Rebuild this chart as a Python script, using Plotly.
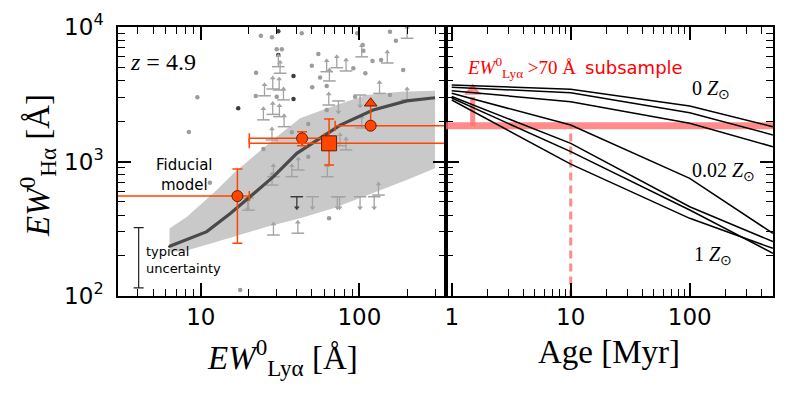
import math
import plotly.graph_objects as go

# ------------------------- data: left panel -------------------------
band_upper_x = [6.34, 8.17, 9.9, 12.6, 16.1, 21.5, 30.1, 42.3, 68.5, 111, 181, 300]
band_upper_y = [318, 389, 475, 614, 817, 1086, 1528, 2093, 2588, 3120, 3300, 3357]
band_lower_x = [300, 199, 111, 68.5, 42.3, 26.1, 16.1, 9.9, 7.76, 6.34]
band_lower_y = [890, 728, 563, 449, 378, 327, 276, 233, 214, 214]

fid_x = [6.3, 10.9, 15.4, 28.7, 40.3, 62.2, 75.7, 122, 199, 300]
fid_y = [233, 301, 412, 771, 1151, 1622, 1866, 2415, 2820, 2980]

dot_x = [23.9, 28.1, 43.3, 97, 156, 170, 30.1, 32.4, 55.1, 106, 121, 137, 189, 22.3, 50.1,
         56.5, 22.2, 30.1, 50.4, 9.5, 8.4, 24.8, 47.6, 64.4, 11.4, 17.7, 105, 91.6, 109, 156,
         94, 62.2, 62.2, 47.6, 37.5]
dot_y = [8610, 8380, 8980, 8980, 9230, 7910, 6820, 6820, 6300, 6670, 5580, 5690, 4790, 4570, 5150,
         4220, 3070, 3030, 3560, 3000, 1655, 1240, 1086, 378, 695, 111, 7350, 4930, 4530, 3120,
         3030, 3640, 2415, 1900, 1650]
dark_x = [30.8, 30.8, 38.4, 38.4, 17.2]
dark_y = [9300, 6190, 4330, 2920, 2490]

lolim_x = [30.8, 31.6, 62.2, 72, 82.4, 64.7, 25.2, 28.4, 31.2, 33.2, 28.4, 24.8, 31.3, 33.5,
           64.1, 103.5, 150, 200, 134, 200, 103.5, 28.7, 37.5, 41.2, 28.1, 20, 132, 28.7, 40.9,
           82.4, 62.8, 75.5, 28.1]
lolim_y = [5070, 4530, 4650, 4980, 4710, 3970, 3080, 3460, 3400, 2870, 2240, 2040, 2155, 1815,
           2630, 6000, 5400, 8240, 3210, 2870, 1775, 771, 771, 865, 668, 435, 563, 284, 293,
           1220, 771, 1310, 1445]
uplim_x = [50.6, 72.6, 75.0, 101, 124, 19.7, 101, 73.8]
uplim_y = [547, 547, 547, 547, 547, 535, 3120, 2820]
uplim_dark_x = [40.3]
uplim_dark_y = [547]

circ_x = [17.0, 43.5]
circ_y = [553, 1486]
circ_x_lo = [1.0, 20.2]
circ_x_hi = [20.2, 60.0]
circ_y_lo = [247, 1312]
circ_y_hi = [880, 1667]

sq_x = [64.4]
sq_y = [1365]
sq_x_lo = [20.2]
sq_x_hi = [1000.0]
sq_y_lo = [943]
sq_y_hi = [2070]

sub_x = [117.8]
sub_y = [1846]
sub_x_lo = [70.3]
sub_x_hi = [1000.0]
sub_lim_y = [2712]

typ_x = [4.05]
typ_lo = [115]
typ_hi = [322]

# ------------------------- data: right panel -------------------------
ages = [1, 10, 100, 500]
tracks = [
    [3705, 3440, 2590, 1815],
    [3565, 3250, 2305, 1575],
    [3360, 2785, 1923, 1288],
    [3213, 1866, 750, 292],
    [3040, 1365, 461, 254],
    [2965, 1183, 436, 208],
    [2865, 957, 378, 226],
]
threshold_y = 1846
threshold_age = 10
arrow_age = 1.5
arrow_top = 3020
arrow_head = 3340
span_ages = [0.5, 1000]
axis_floor = 50

xticks_left = [10, 100]
xticks_right = [1, 10, 100]
yticks = [100, 1000, 10000]
yticklabels = ["10<sup>2</sup>", "10<sup>3</sup>", "10<sup>4</sup>"]

# ------------------------- styles -------------------------
ORANGE = "#FF4500"
EDGE = "#6b1a00"
LIM = "#a3a3a3"
DOT = "#9c9c9c"
DARK = "#3c3c3c"
PINK = "rgba(255,110,110,0.8)"
STEM = 10 ** (11 / 134.5)
SERIF = "Liberation Serif"
SANS = "DejaVu Sans"

fig = go.Figure()
L = dict(xaxis="x", yaxis="y")
R = dict(xaxis="x2", yaxis="y2")

# band
fig.add_trace(go.Scatter(x=band_upper_x + band_lower_x, y=band_upper_y + band_lower_y,
                         fill="toself", fillcolor="#c9c9c9", line=dict(width=0),
                         mode="lines", hoverinfo="skip", **L))
# dots
fig.add_trace(go.Scatter(x=dot_x, y=dot_y, mode="markers",
                         marker=dict(size=4.5, color=DOT), **L))
fig.add_trace(go.Scatter(x=dark_x, y=dark_y, mode="markers",
                         marker=dict(size=4.5, color=DARK), **L))
# lower limits
fig.add_trace(go.Scatter(x=lolim_x, y=lolim_y, mode="markers",
                         marker=dict(symbol="line-ew", size=9, line=dict(width=1.5, color=LIM)),
                         error_y=dict(type="data", symmetric=False,
                                      array=[v * (STEM - 1) for v in lolim_y],
                                      arrayminus=[0] * len(lolim_y), width=0, thickness=1.3, color=LIM),
                         **L))
fig.add_trace(go.Scatter(x=lolim_x, y=[v * STEM for v in lolim_y], mode="markers",
                         marker=dict(symbol="triangle-up", size=5, color=LIM), **L))
# upper limits
for ux, uy, col in [(uplim_x, uplim_y, LIM), (uplim_dark_x, uplim_dark_y, DARK)]:
    fig.add_trace(go.Scatter(x=ux, y=uy, mode="markers",
                             marker=dict(symbol="line-ew", size=9, line=dict(width=1.5, color=col)),
                             error_y=dict(type="data", symmetric=False, array=[0] * len(uy),
                                          arrayminus=[v * (1 - 1 / STEM) for v in uy],
                                          width=0, thickness=1.3, color=col),
                             **L))
    fig.add_trace(go.Scatter(x=ux, y=[v / STEM for v in uy], mode="markers",
                             marker=dict(symbol="triangle-down", size=5, color=col), **L))
# fiducial model curve
fig.add_trace(go.Scatter(x=fid_x, y=fid_y, mode="lines",
                         line=dict(color="#4a4a4a", width=3.2), **L))
# typical uncertainty
fig.add_trace(go.Scatter(x=typ_x, y=typ_lo, mode="markers", marker=dict(size=1, opacity=0),
                         error_y=dict(type="data", symmetric=False,
                                      array=[h - l for h, l in zip(typ_hi, typ_lo)],
                                      arrayminus=[0], width=5, thickness=1.2, color="#222"),
                         **L))


def ebar(xs, lo, hi):
    return dict(type="data", symmetric=False,
                array=[h - x for h, x in zip(hi, xs)], arrayminus=[x - l for x, l in zip(xs, lo)])


# circles
ex = ebar(circ_x, circ_x_lo, circ_x_hi)
ey = ebar(circ_y, circ_y_lo, circ_y_hi)
fig.add_trace(go.Scatter(x=circ_x, y=circ_y, mode="markers",
                         marker=dict(symbol="circle", size=11, color=ORANGE, line=dict(color=EDGE, width=1)),
                         error_x=dict(**ex, width=5, thickness=1.5, color=ORANGE),
                         error_y=dict(**ey, width=5, thickness=1.5, color=ORANGE), **L))
# square
ex = ebar(sq_x, sq_x_lo, sq_x_hi)
ey = ebar(sq_y, sq_y_lo, sq_y_hi)
fig.add_trace(go.Scatter(x=sq_x, y=sq_y, mode="markers",
                         marker=dict(symbol="square", size=15, color=ORANGE, line=dict(color=EDGE, width=1)),
                         error_x=dict(**ex, width=5, thickness=1.5, color=ORANGE),
                         error_y=dict(**ey, width=5, thickness=1.5, color=ORANGE), **L))
# subsample point with lower limit
ex = ebar(sub_x, sub_x_lo, sub_x_hi)
fig.add_trace(go.Scatter(x=sub_x, y=sub_y, mode="markers",
                         marker=dict(symbol="circle", size=11, color=ORANGE, line=dict(color=EDGE, width=1)),
                         error_x=dict(**ex, width=5, thickness=1.5, color=ORANGE),
                         error_y=dict(type="data", symmetric=False,
                                      array=[t - y for t, y in zip(sub_lim_y, sub_y)], arrayminus=[0],
                                      width=0, thickness=1.5, color=ORANGE), **L))
fig.add_trace(go.Scatter(x=sub_x, y=sub_lim_y, mode="markers",
                         marker=dict(symbol="triangle-up", size=11, color=ORANGE, line=dict(color=EDGE, width=1)),
                         **L))

# ------------------------- right panel -------------------------
fig.add_trace(go.Scatter(x=span_ages, y=[threshold_y, threshold_y], mode="lines",
                         line=dict(color=PINK, width=7), **R))
fig.add_trace(go.Scatter(x=[threshold_age, threshold_age], y=[axis_floor, threshold_y], mode="lines",
                         line=dict(color=PINK, width=3, dash="8px,5px"), **R))
fig.add_trace(go.Scatter(x=[arrow_age, arrow_age], y=[threshold_y, arrow_top], mode="lines",
                         line=dict(color=PINK, width=5), **R))
fig.add_trace(go.Scatter(x=[arrow_age], y=[arrow_head], mode="markers",
                         marker=dict(symbol="triangle-up", size=15, color=PINK), **R))
for tr in tracks:
    fig.add_trace(go.Scatter(x=ages, y=tr, mode="lines", line=dict(color="black", width=1.5), **R))

# ------------------------- layout -------------------------
# page has an 8px body margin; figure sized so it fits the 789x395 window
OFF = 8
W, H = 789 - OFF, 395 - OFF


def px(p):
    return (p - OFF) / W


def py(p):
    return 1 - (p - OFF) / H


xl, xm, xr = px(118), px(446), px(773)
yb, yt = py(296), py(27)


def minor_vals(decades, lo, hi):
    return [m * 10 ** d for d in decades for m in range(2, 10) if lo <= m * 10 ** d <= hi]


axis_common = dict(type="log", ticks="inside", ticklen=13, tickwidth=1.5, tickcolor="black",
                   showline=True, linecolor="black", linewidth=1.5, mirror="allticks",
                   showgrid=False, zeroline=False, automargin=False,
                   tickfont=dict(family=SANS, size=23, color="black"))

fig.update_layout(
    template="none",
    width=W, height=H, margin=dict(l=0, r=0, t=0, b=0, autoexpand=False),
    paper_bgcolor="white", plot_bgcolor="white", showlegend=False,
    xaxis=dict(**axis_common, domain=[xl, xm], anchor="y",
               range=[math.log10(3), math.log10(352)], tickmode="array", tickvals=xticks_left,
               ticktext=[str(v) for v in xticks_left],
               minor=dict(tickmode="array", tickvals=minor_vals([0, 1, 2], 3, 352), ticks="inside",
                          ticklen=7, tickwidth=1.2, tickcolor="black", showgrid=False)),
    yaxis=dict(**axis_common, domain=[yb, yt], anchor="x", range=[2, 4],
               tickmode="array", tickvals=yticks, ticktext=yticklabels, ticklabelstandoff=8,
               minor=dict(tickmode="array", tickvals=minor_vals([2, 3], 100, 10000), ticks="inside",
                          ticklen=7, tickwidth=1.2, tickcolor="black", showgrid=False)),
    xaxis2=dict(**axis_common, domain=[xm, xr], anchor="y2",
                range=[math.log10(0.895), math.log10(501)], tickmode="array", tickvals=xticks_right,
                ticktext=[str(v) for v in xticks_right],
                minor=dict(tickmode="array", tickvals=minor_vals([0, 1, 2], 0.9, 501), ticks="inside",
                           ticklen=7, tickwidth=1.2, tickcolor="black", showgrid=False)),
    yaxis2=dict(**axis_common, domain=[yb, yt], anchor="x2", range=[2, 4],
                tickmode="array", tickvals=yticks, showticklabels=False,
                minor=dict(tickmode="array", tickvals=minor_vals([2, 3], 100, 10000), ticks="inside",
                           ticklen=7, tickwidth=1.2, tickcolor="black", showgrid=False)),
)

ann = []
# axis titles
ann.append(dict(text="<i>EW</i><sup>0</sup><sub>Hα</sub> [Å]", xref="paper", yref="paper",
                x=px(37), y=py(166), textangle=-90, showarrow=False,
                xanchor="center", yanchor="middle",
                font=dict(family=SERIF, size=33, color="black")))
ann.append(dict(text="<i>EW</i><sup>0</sup><sub>Lyα</sub> [Å]", xref="paper", yref="paper",
                x=px(282), y=py(357), showarrow=False, xanchor="center", yanchor="middle",
                font=dict(family=SERIF, size=33, color="black")))
ann.append(dict(text="Age [Myr]", xref="paper", yref="paper",
                x=px(609), y=py(352), showarrow=False, xanchor="center", yanchor="middle",
                font=dict(family=SERIF, size=33, color="black")))
# left panel texts
ann.append(dict(text="<i>z</i> = 4.9", xref="x domain", yref="y domain", x=0.03, y=0.87,
                xanchor="left", yanchor="middle", showarrow=False,
                font=dict(family=SERIF, size=24, color="black")))
ann.append(dict(text="Fiducial<br>model", xref="x domain", yref="y domain", x=0.204, y=0.45,
                xanchor="center", yanchor="middle", showarrow=False,
                font=dict(family=SANS, size=15, color="black")))
ann.append(dict(text="typical<br>uncertainty", xref="x domain", yref="y domain", x=0.079, y=0.134,
                xanchor="left", yanchor="middle", align="left", showarrow=False,
                font=dict(family=SANS, size=13, color="black")))
# right panel texts
ann.append(dict(text="<i>EW</i><sup>0</sup><sub>Lyα</sub> >70 Å",
                xref="x2 domain", yref="y2 domain", x=0.058, y=0.848,
                xanchor="left", yanchor="middle", showarrow=False,
                font=dict(family=SERIF, size=19, color="red")))
ann.append(dict(text="subsample",
                xref="x2 domain", yref="y2 domain", x=0.42, y=0.848,
                xanchor="left", yanchor="middle", showarrow=False,
                font=dict(family=SANS, size=18, color="red")))
for txt, yd, xd in [("0 <i>Z</i><sub>⊙</sub>", 0.766, 0.746), ("0.02 <i>Z</i><sub>⊙</sub>", 0.461, 0.746),
                    ("1 <i>Z</i><sub>⊙</sub>", 0.152, 0.752)]:
    ann.append(dict(text=txt, xref="x2 domain", yref="y2 domain", x=xd, y=yd,
                    xanchor="left", yanchor="middle", showarrow=False,
                    font=dict(family=SERIF, size=20, color="black")))
fig.update_layout(annotations=ann)

fig.write_html("out.html")
